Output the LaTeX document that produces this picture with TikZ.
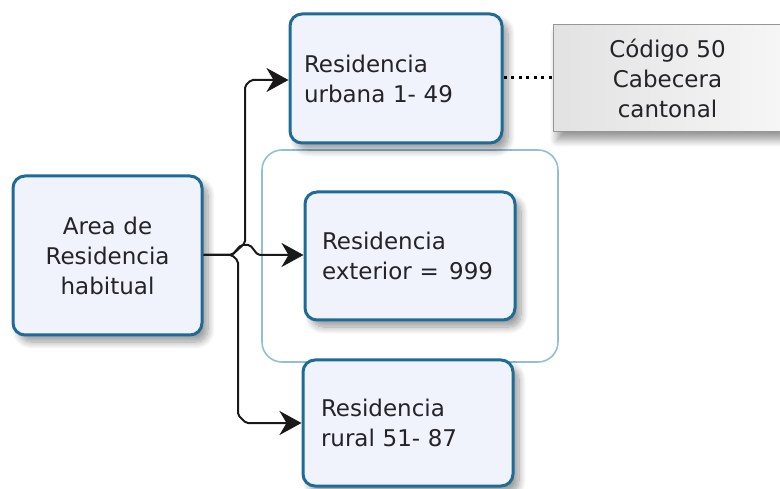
\documentclass[tikz,border=0pt]{standalone}
\usepackage{fontspec}
\setmainfont{DejaVu Sans}
\usetikzlibrary{arrows.meta,shadows,shadows.blur}
\definecolor{boxborder}{RGB}{30,108,150}
\definecolor{boxfill}{RGB}{240,242,252}
\definecolor{contborder}{RGB}{145,192,214}
\definecolor{txt}{RGB}{35,35,40}
\definecolor{noteleft}{RGB}{226,226,226}
\definecolor{noteright}{RGB}{246,246,246}
\definecolor{noteborder}{RGB}{150,150,150}
\begin{document}
\begin{tikzpicture}[x=1pt,y=-1pt,
  font=\fontsize{23}{30}\selectfont,
  procbox/.style={draw=boxborder, line width=3pt, fill=boxfill, rounded corners=12pt,
    text=txt, inner ysep=2pt,
    blur shadow={shadow xshift=6pt, shadow yshift=-7pt, shadow blur steps=10,
      shadow blur radius=7pt, shadow opacity=40}},
  leftbox/.style={procbox, align=left},
  container/.style={draw=contborder, line width=1.6pt, rounded corners=20pt},
  notebox/.style={draw=noteborder, line width=1pt, left color=noteleft, right color=noteright, text=txt, align=center,
    blur shadow={shadow xshift=4pt, shadow yshift=-8pt, shadow blur steps=10,
      shadow blur radius=7pt, shadow opacity=40}},
  conn/.style={draw=black!90, line width=2pt, rounded corners=2pt},
  arr/.style={-{Stealth[length=22pt,width=24pt,inset=7pt]}},
  dots/.style={draw=black, line width=3pt, dash pattern=on 3pt off 4.5pt}
]
\useasboundingbox (0,0) rectangle (780,489);

\node[container, minimum width=296pt, minimum height=212pt] (cont) at (410,256) {};

\node[procbox, align=center, minimum width=189pt, minimum height=159pt, text width=170pt, inner xsep=9.5pt]
  (area) at (107.5,255.5) {Area de\\Residencia\\habitual};
\node[leftbox, minimum height=129pt, text width=184pt, inner xsep=14pt]
  (urb) at (396,78.5) {Residencia\\urbana 1- 49};
\node[leftbox, minimum height=128pt, text width=176pt, inner xsep=17pt]
  (ext) at (410,256) {Residencia\\\mbox{exterior =\hspace{0.45em}999}};
\node[leftbox, minimum height=126pt, text width=174pt, inner xsep=18pt]
  (rur) at (408,423) {Residencia\\rural 51- 87};
\node[notebox, minimum width=229pt, minimum height=107pt]
  (cod) at (667.5,78.5) {Código 50\\Cabecera\\cantonal};

\coordinate (j) at (232,255);
\coordinate (ua) at (251,80);
\coordinate (ra) at (246,423);

% upper connector
\draw[conn, arr] (area.east |- j) -- (j) -- (245,243) -- (245,86) -- (ua) -- (urb.west |- ua);
% lower connector
\draw[conn, arr] (area.east |- j) -- (j) -- (238,261) -- (238,415) -- (ra) -- (rur.west |- ra);
% middle connector with hop
\draw[conn, arr] (area.east |- j) -- (j) -- (241,245) -- (250,245) -- (258,255) -- (ext.west |- j);
% dotted link
\draw[dots] (urb.east |- 0,78) -- (cod.west |- 0,78);
\end{tikzpicture}
\end{document}
